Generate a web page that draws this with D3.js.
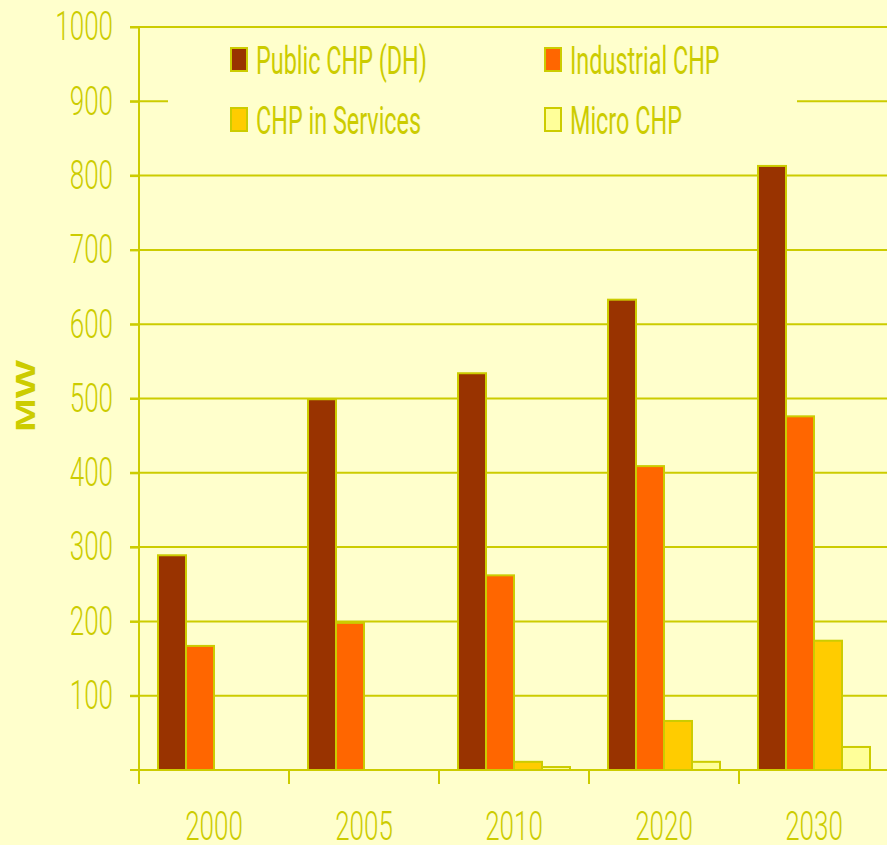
<!DOCTYPE html>
<html>
<head>
<meta charset="utf-8">
<script src="https://cdn.jsdelivr.net/npm/d3@7"></script>
<style>
  html, body { margin: 0; padding: 0; background: #ffffcc; }
  svg { display: block; }
</style>
</head>
<body>
<div id="chart"></div>
<script>
// data (MW)
var years = ["2000", "2005", "2010", "2020", "2030"]
var seriesNames = ["Public CHP (DH)", "Industrial CHP", "CHP in Services", "Micro CHP"]
var publicCHP = [289, 499, 534, 633, 813]
var industrialCHP = [167, 198, 262, 409, 476]
var servicesCHP = [0, 0, 11, 66, 174]
var microCHP = [0, 0, 4, 11, 31]
var yTicks = [100, 200, 300, 400, 500, 600, 700, 800, 900, 1000]

var seriesValues = [publicCHP, industrialCHP, servicesCHP, microCHP]
var colors = ["#993300", "#ff6600", "#ffcc00", "#ffff99"]
var lineColor = "#cccc00"
var bg = "#ffffcc"

var width = 887, height = 845
var narrow = 0.65 // the original is squeezed sideways

var svg = d3.select("#chart").append("svg")
  .attr("width", width).attr("height", height)
svg.append("rect").attr("width", width).attr("height", height).attr("fill", bg)

var x = d3.scaleBand().domain(years).range([139, 889]).padding(0)
var xInner = d3.scaleBand().domain(seriesNames).range([19, 131]).padding(0)
var y = d3.scaleLinear().domain([0, 1000]).range([770, 27])

// grid lines
svg.append("g").selectAll("line")
  .data(yTicks)
  .enter().append("line")
  .attr("x1", 130).attr("x2", width)
  .attr("y1", function(d) { return y(d) })
  .attr("y2", function(d) { return y(d) })
  .attr("stroke", lineColor).attr("stroke-width", 2)

// legend box hides the 900 line
var legend = svg.append("g")
legend.append("rect")
  .attr("x", 168).attr("y", 36).attr("width", 629).attr("height", 112)
  .attr("fill", bg)

var legendPos = [[231, 48], [545, 48], [231, 108], [545, 108]]
seriesNames.forEach(function(name, i) {
  var p = legendPos[i]
  legend.append("rect")
    .attr("x", p[0]).attr("y", p[1]).attr("width", 16).attr("height", 23)
    .attr("fill", colors[i]).attr("stroke", lineColor).attr("stroke-width", 2)
  legend.append("text")
    .attr("transform", "translate(" + (p[0] + 25) + "," + (p[1] + 26) + ") scale(0.6,1)")
    .attr("font-family", "Roboto, sans-serif")
    .attr("font-size", 39)
    .attr("fill", lineColor)
    .text(name)
})

// bars
var groups = svg.append("g").selectAll("g")
  .data(years)
  .enter().append("g")
  .attr("transform", function(d) { return "translate(" + x(d) + ",0)" })

groups.selectAll("rect")
  .data(function(d, i) {
    return seriesNames.map(function(s, j) { return { s: s, v: seriesValues[j][i], c: colors[j] } })
      .filter(function(e) { return e.v > 0 })
  })
  .enter().append("rect")
  .attr("x", function(d) { return xInner(d.s) })
  .attr("width", xInner.bandwidth())
  .attr("y", function(d) { return y(d.v) })
  .attr("height", function(d) { return y(0) - y(d.v) })
  .attr("fill", function(d) { return d.c })
  .attr("stroke", lineColor).attr("stroke-width", 2)

// y axis
var yAxis = svg.append("g")
  .attr("transform", "translate(139,0)")
  .call(d3.axisLeft(y).tickValues(yTicks).tickSize(9).tickFormat(d3.format("d")))
yAxis.select(".domain").remove()
yAxis.selectAll(".tick line").attr("stroke", lineColor).attr("stroke-width", 2)
yAxis.selectAll(".tick text")
  .attr("x", -26 / narrow)
  .attr("transform", "scale(" + narrow + ",1)")
  .attr("font-family", "Roboto, sans-serif")
  .attr("font-weight", 300)
  .attr("font-size", 40)
  .attr("fill", lineColor)
svg.append("line")
  .attr("x1", 139).attr("x2", 139).attr("y1", y(1000)).attr("y2", 784)
  .attr("stroke", lineColor).attr("stroke-width", 2)

// x axis
var xAxis = svg.append("g")
  .attr("transform", "translate(0," + y(0) + ")")
  .call(d3.axisBottom(x).tickSize(0))
xAxis.select(".domain").remove()
xAxis.selectAll(".tick text")
  .attr("y", 0).attr("dy", 0)
  .attr("transform", "translate(0,70) scale(" + narrow + ",1)")
  .attr("font-family", "Roboto, sans-serif")
  .attr("font-weight", 300)
  .attr("font-size", 40)
  .attr("fill", lineColor)
svg.append("line")
  .attr("x1", 130).attr("x2", width).attr("y1", y(0)).attr("y2", y(0))
  .attr("stroke", lineColor).attr("stroke-width", 2)
svg.append("g").selectAll("line")
  .data(d3.range(years.length + 1))
  .enter().append("line")
  .attr("x1", function(i) { return x.range()[0] + i * x.step() })
  .attr("x2", function(i) { return x.range()[0] + i * x.step() })
  .attr("y1", y(0)).attr("y2", 784)
  .attr("stroke", lineColor).attr("stroke-width", 2)

// axis title
svg.append("text")
  .attr("transform", "translate(35," + 396 + ") rotate(-90) scale(1.45,1)")
  .attr("text-anchor", "middle")
  .attr("font-family", "Liberation Sans, Arial, sans-serif")
  .attr("font-weight", "bold")
  .attr("font-size", 28)
  .attr("fill", lineColor)
  .text("MW")
</script>
</body>
</html>
